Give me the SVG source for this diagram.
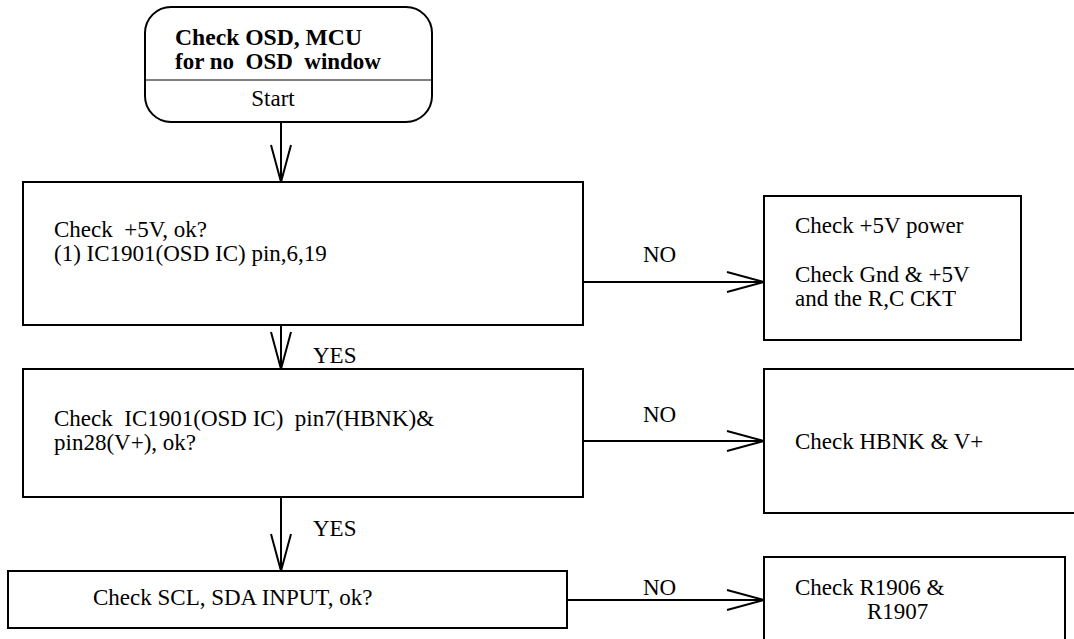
<svg xmlns="http://www.w3.org/2000/svg" width="1074" height="639" viewBox="0 0 1074 639">
<style>
.box{fill:#fff;stroke:#000;stroke-width:2}
.t{font-family:'Liberation Serif','Times New Roman',serif;font-size:23px;fill:#000;white-space:pre}
.b{font-weight:bold}
.c{fill:none;stroke:#000;stroke-width:2}
</style>
<defs>
<marker id="arr" markerUnits="userSpaceOnUse" markerWidth="42" markerHeight="26" viewBox="0 0 42 26" refX="39" refY="13" orient="auto">
<path d="M2,3 L39,13 L2,23" fill="none" stroke="#000" stroke-width="2"/>
</marker>
</defs>
<rect width="1074" height="639" fill="#fff"/>
<g id="connectors">
<line class="c" x1="281" y1="122" x2="281" y2="182" marker-end="url(#arr)"/>
<line class="c" x1="281" y1="325" x2="281" y2="369" marker-end="url(#arr)"/>
<line class="c" x1="281" y1="497" x2="281" y2="571" marker-end="url(#arr)"/>
<line class="c" x1="583" y1="282" x2="764" y2="282" marker-end="url(#arr)"/>
<line class="c" x1="583" y1="441" x2="764" y2="441" marker-end="url(#arr)"/>
<line class="c" x1="567" y1="600" x2="764" y2="600" marker-end="url(#arr)"/>
<text class="t" x="313" y="363">YES</text>
<text class="t" x="313" y="536">YES</text>
<text class="t" x="643" y="262">NO</text>
<text class="t" x="643" y="422">NO</text>
<text class="t" x="643" y="595">NO</text>
</g>
<g id="start">
<rect class="box" x="145" y="7" width="287" height="115" rx="26" ry="26"/>
<line x1="145" y1="80" x2="432" y2="80" stroke="#000" stroke-width="1"/>
<text class="t b" x="175" y="44.5" textLength="187" lengthAdjust="spacingAndGlyphs">Check OSD, MCU</text>
<text class="t b" x="175" y="68.5">for no  OSD  window</text>
<text class="t" x="273" y="106" text-anchor="middle">Start</text>
</g>
<g id="check5v">
<rect class="box" x="23" y="182" width="560" height="143"/>
<text class="t" x="54" y="236.5">Check  +5V, ok?</text>
<text class="t" x="54" y="261">(1) IC1901(OSD IC) pin,6,19</text>
</g>
<g id="power">
<rect class="box" x="764" y="196" width="257" height="144"/>
<text class="t" x="795" y="233">Check +5V power</text>
<text class="t" x="795" y="281.5">Check Gnd &amp; +5V</text>
<text class="t" x="795" y="305.5">and the R,C CKT</text>
</g>
<g id="checkhbnk">
<rect class="box" x="23" y="369" width="560" height="128"/>
<text class="t" x="54" y="425.5">Check  IC1901(OSD IC)  pin7(HBNK)&amp;</text>
<text class="t" x="54" y="449.5">pin28(V+), ok?</text>
</g>
<g id="hbnk">
<rect class="box" x="764" y="369" width="320" height="144"/>
<text class="t" x="795" y="449">Check HBNK &amp; V+</text>
</g>
<g id="checkscl">
<rect class="box" x="8" y="571" width="559" height="57"/>
<text class="t" x="93" y="605">Check SCL, SDA INPUT, ok?</text>
</g>
<g id="resistors">
<rect class="box" x="764" y="557" width="301" height="100"/>
<text class="t" x="795" y="594.5">Check R1906 &amp;</text>
<text class="t" x="867" y="618.5">R1907</text>
</g>
</svg>
